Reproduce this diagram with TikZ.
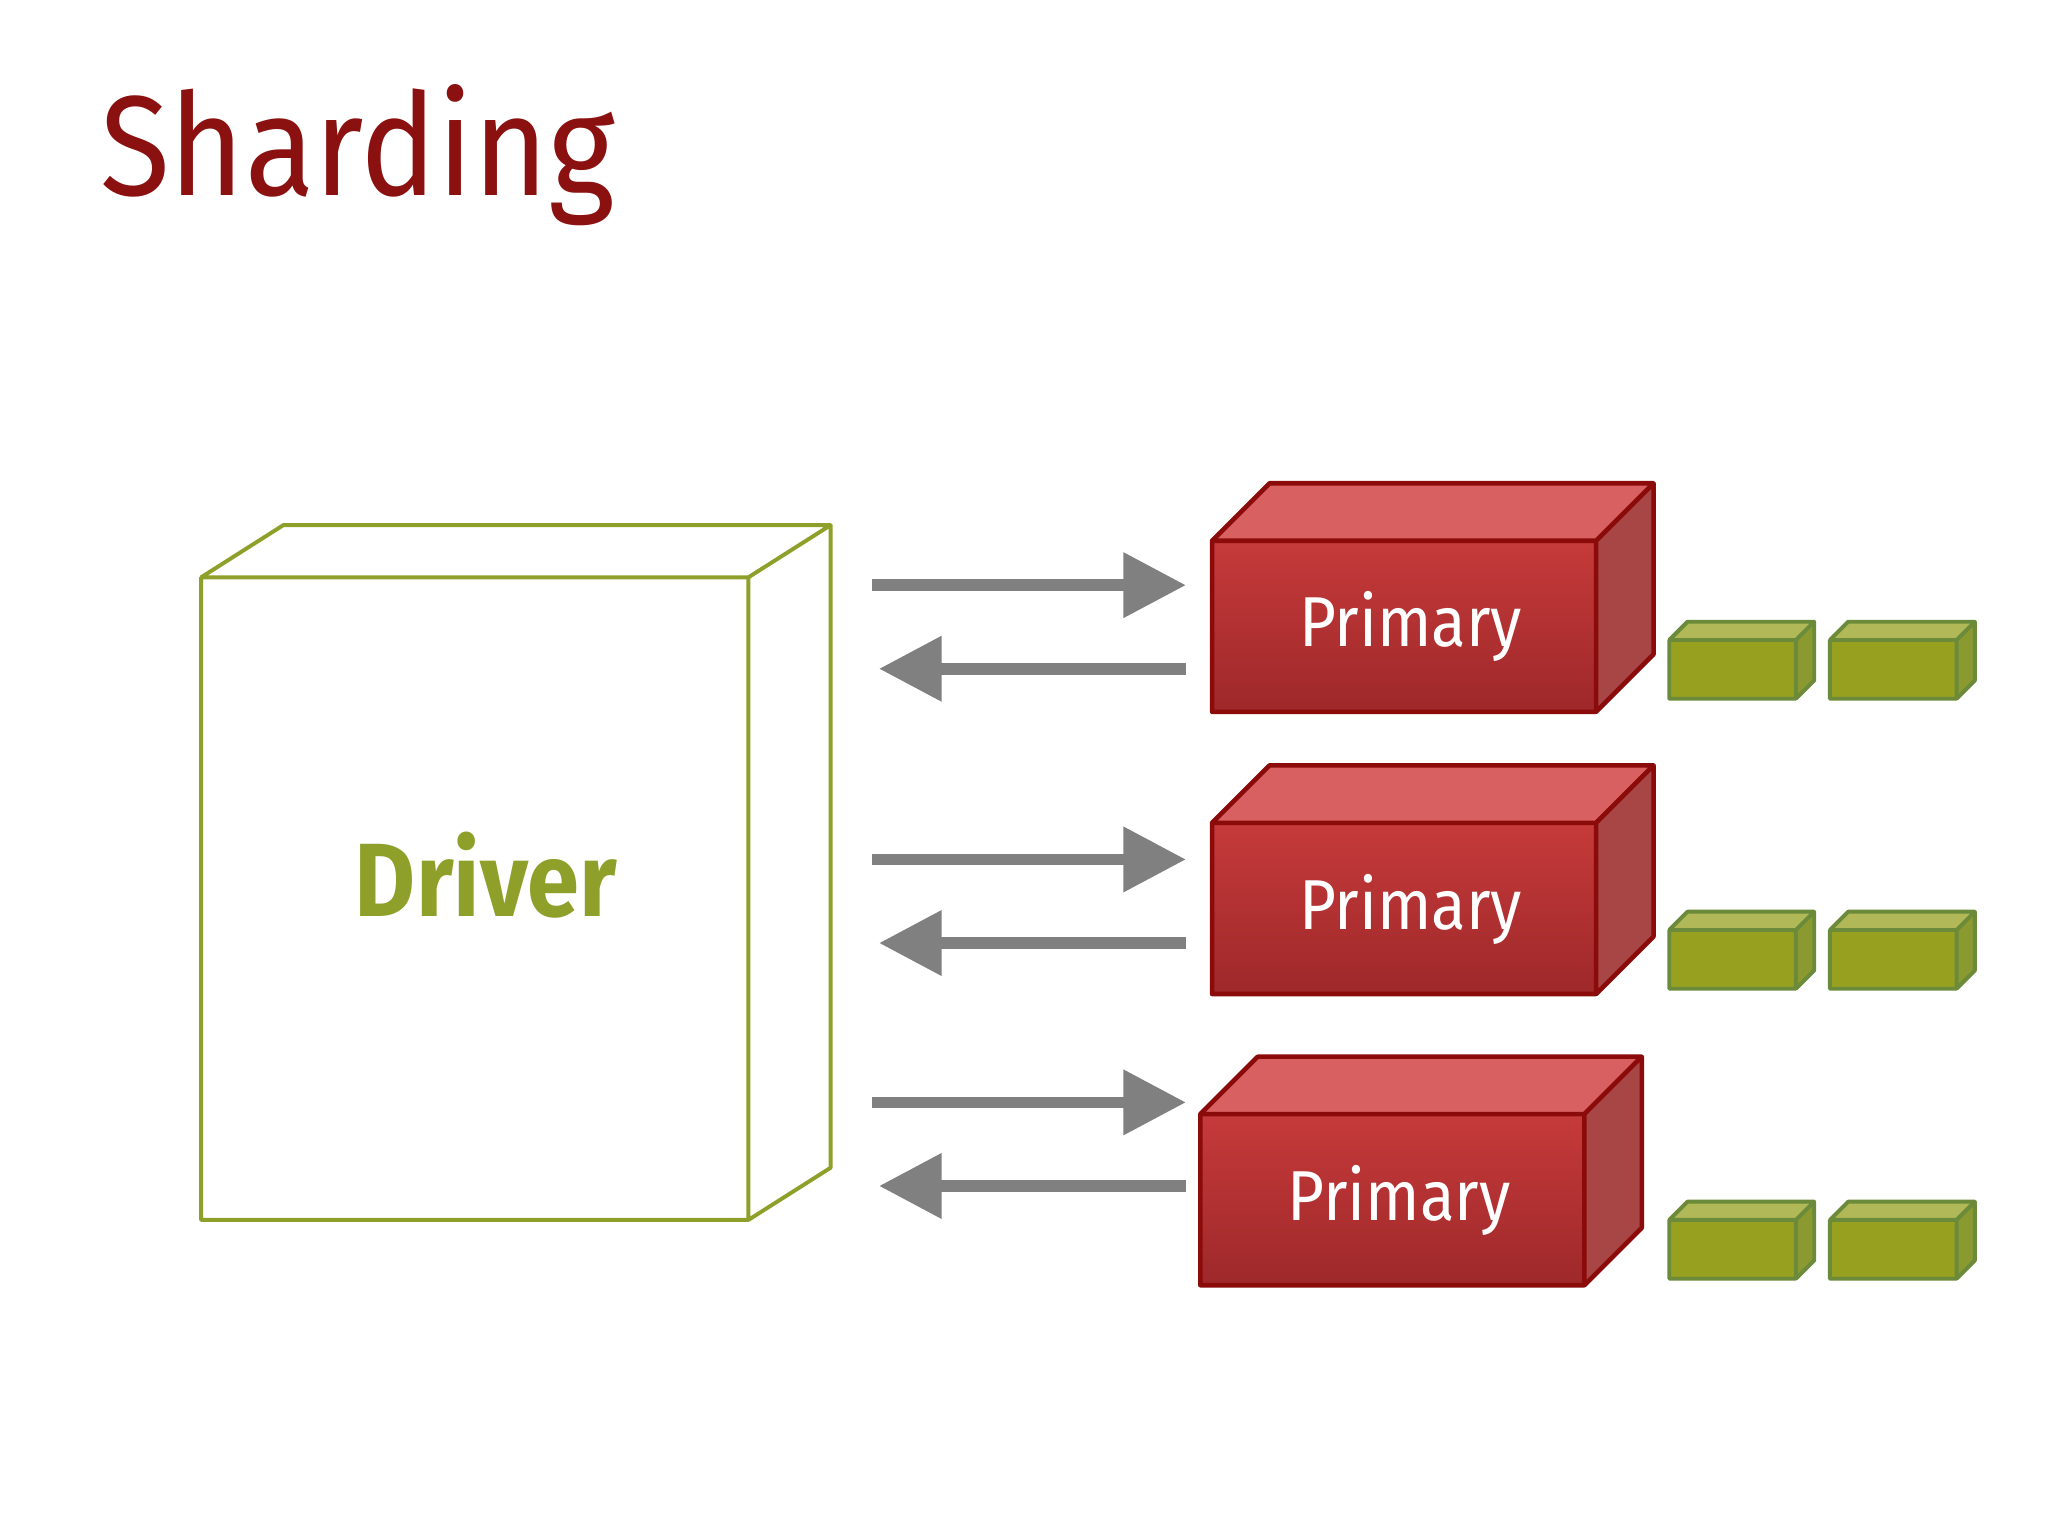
\documentclass[tikz,border=0pt]{standalone}
\usepackage{fontspec}
\setmainfont{Fira Sans}[FakeStretch=0.9]
\usetikzlibrary{arrows.meta}
\definecolor{olive}{HTML}{8FA02A}
\definecolor{dred}{HTML}{8B0A0A}
\definecolor{ttl}{HTML}{8B1010}
\definecolor{gry}{HTML}{808080}
\definecolor{gfill}{HTML}{98A020}
\definecolor{gtop}{HTML}{B0B858}
\definecolor{gside}{HTML}{8A9A30}
\definecolor{gborder}{HTML}{6B8A3A}
\definecolor{rtopc}{HTML}{C63A3A}
\definecolor{rbotc}{HTML}{9E282A}
\definecolor{rlid}{HTML}{D96060}
\definecolor{rside}{HTML}{A84545}
\tikzset{
 arr/.style={draw=gry,line width=0.9mm,-{Triangle[length=4.8mm,width=4.8mm]}},
 ptext/.style={text=white,font=\fontsize{15.4}{18}\selectfont},
}
\newcommand{\primbox}[3]{% x y name
 \shade[top color=rtopc,bottom color=rbotc] (#1,#2) rectangle ++(294,131);
 \fill[rlid] (#1,#2) -- ++(44,-44) -- ++(294,0) -- ++(-44,44) -- cycle;
 \fill[rside] (#1+294,#2) -- ++(44,-44) -- ++(0,131) -- ++(-44,44) -- cycle;
 \draw[dred,line width=0.35mm,line join=round] (#1,#2) rectangle ++(294,131)
   (#1,#2) -- ++(44,-44) -- ++(294,0) -- ++(-44,44)
   (#1+338,#2-44) -- ++(0,131) -- ++(-44,44);
 \node[ptext] (#3) at (#1+152,#2+66) {Primary};
}
\newcommand{\gbox}[2]{%
 \fill[gfill] (#1,#2) rectangle ++(97,45);
 \fill[gtop] (#1,#2) -- ++(14,-14) -- ++(97,0) -- ++(-14,14) -- cycle;
 \fill[gside] (#1+97,#2) -- ++(14,-14) -- ++(0,45) -- ++(-14,14) -- cycle;
 \draw[gborder,line width=0.3mm,line join=round] (#1,#2) rectangle ++(97,45)
   (#1,#2) -- ++(14,-14) -- ++(97,0) -- ++(-14,14)
   (#1+111,#2-14) -- ++(0,45) -- ++(-14,14);
}
\begin{document}
\begin{tikzpicture}[x=0.1mm,y=-0.1mm]
\useasboundingbox (0,0) rectangle (1568,1176);
\node[anchor=base west,inner sep=0,text=ttl,font=\fontsize{31}{36}\selectfont] (title) at (76,150) {Sharding};
\draw[olive,line width=0.3mm,line join=round] (154,442) rectangle (573,934)
  (154,442) -- (217,402) -- (636,402) -- (573,442)
  (636,402) -- (636,894) -- (573,934);
\node[text=olive,font=\bfseries\fontsize{22.7}{26}\selectfont] (driver) at (372,670) {Driver};
\primbox{928}{414}{p1}
\primbox{928}{630}{p2}
\primbox{919}{853}{p3}
\foreach \y in {490,712,934}{\gbox{1278}{\y}\gbox{1401}{\y}}
\foreach \a/\b [count=\i] in {448/512,658/722,844/908}{
 \coordinate (r\i s) at (668,\a); \coordinate (r\i e) at (908,\a);
 \coordinate (l\i s) at (908,\b); \coordinate (l\i e) at (673,\b);
 \draw[arr] (r\i s) -- (r\i e);
 \draw[arr] (l\i s) -- (l\i e);
}
\end{tikzpicture}
\end{document}
